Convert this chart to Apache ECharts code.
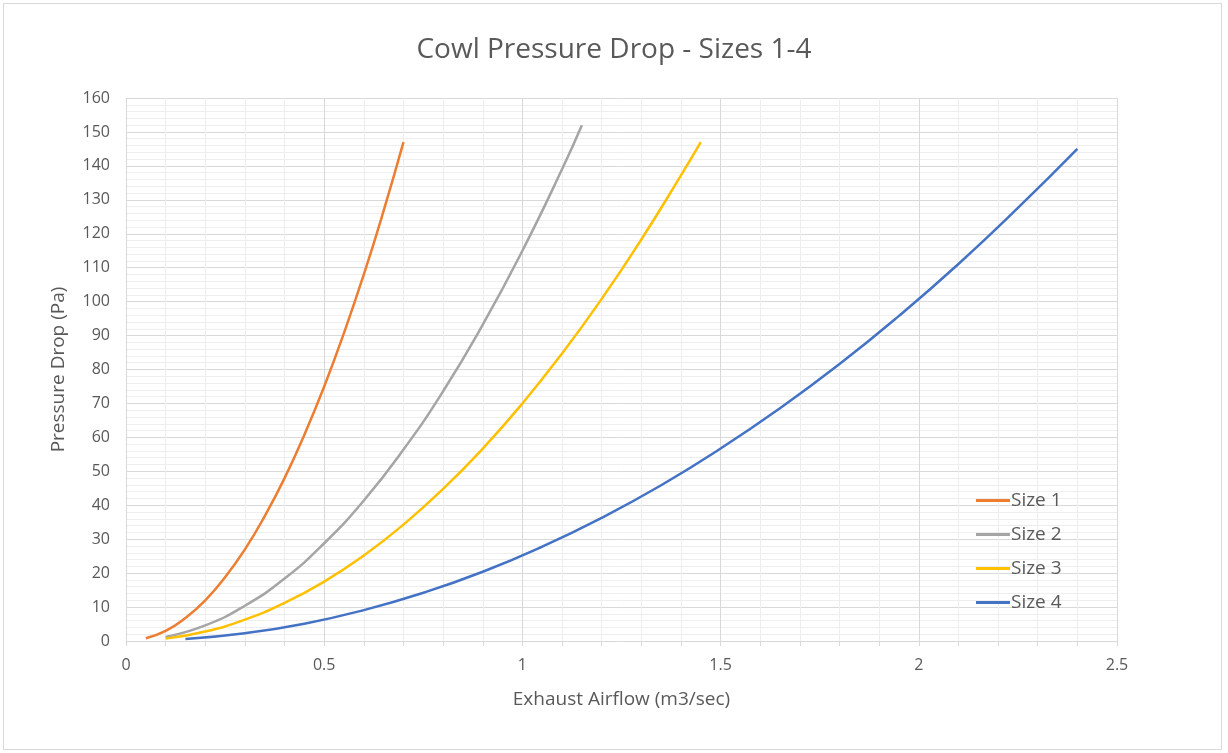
<!DOCTYPE html>
<html>
<head>
<meta charset="utf-8">
<script src="https://cdn.jsdelivr.net/npm/echarts@6/dist/echarts.min.js"></script>
<style>
  html, body { margin: 0; padding: 0; background: #fff; }
  #frame { position: absolute; left: 3px; top: 3px; width: 1217px; height: 745px; border: 1px solid #d9d9d9; }
  #chart { width: 1228px; height: 753px; }
</style>
</head>
<body>
<div id="frame"></div>
<div id="chart"></div>
<script>
// values: [airflow m3/sec, pressure drop Pa]
var size1 = [[0.05, 0.8], [0.1, 3], [0.15, 6.8], [0.2, 12], [0.25, 18.8], [0.3, 27], [0.35, 36.8],
    [0.4, 48], [0.45, 60.8], [0.5, 75], [0.55, 90.8], [0.6, 108], [0.65, 126.8], [0.7, 147]];
var size2 = [[0.1, 1.2], [0.2, 4.6], [0.3, 10.4], [0.4, 18.4], [0.5, 28.8], [0.6, 41.4], [0.7, 56.4],
    [0.8, 73.6], [0.9, 93.2], [1.0, 115], [1.1, 139], [1.15, 152]];
var size3 = [[0.1, 0.7], [0.2, 2.8], [0.3, 6.3], [0.4, 11.2], [0.5, 17.5], [0.6, 25.2], [0.7, 34.3],
    [0.8, 44.8], [0.9, 56.7], [1.0, 70], [1.1, 84.7], [1.2, 100.8], [1.3, 118.3], [1.4, 137.2], [1.45, 147]];
var size4 = [[0.15, 0.6], [0.3, 2.3], [0.45, 5.1], [0.6, 9.1], [0.75, 14.2], [0.9, 20.4], [1.05, 27.8],
    [1.2, 36.3], [1.35, 45.9], [1.5, 56.7], [1.65, 68.6], [1.8, 81.6], [1.95, 95.8], [2.1, 111.1],
    [2.25, 127.6], [2.4, 145]];
var names = ['Size 1', 'Size 2', 'Size 3', 'Size 4'];
var colors = ['#ED7D31', '#A5A5A5', '#FFC000', '#4472C4'];
var seriesData = [size1, size2, size3, size4];

var font = '"Open Sans", "Liberation Sans", sans-serif';
var textColor = '#595959';

echarts.init(document.getElementById('chart'))
    .setOption({
        animation: false,
        textStyle: {
            fontFamily: font
        },
        title: {
            text: 'Cowl Pressure Drop - Sizes 1-4',
            left: 'center',
            top: 31,
            textStyle: {
                fontFamily: font,
                fontSize: 28,
                fontWeight: 'normal',
                color: textColor
            }
        },
        legend: {
            orient: 'vertical',
            left: 971,
            top: 486,
            itemWidth: 34,
            itemHeight: 3,
            itemGap: 15,
            icon: 'rect',
            data: names,
            textStyle: {
                fontSize: 19,
                color: textColor,
                padding: [0, 0, 0, -4]
            }
        },
        grid: {
            left: 126,
            right: 111,
            top: 98,
            bottom: 112
        },
        xAxis: {
            type: 'value',
            min: 0,
            max: 2.5,
            interval: 0.5,
            name: 'Exhaust Airflow (m3/sec)',
            nameLocation: 'middle',
            nameGap: 49,
            nameTextStyle: {
                fontSize: 19,
                color: textColor
            },
            axisLine: { show: true, lineStyle: { color: '#d9d9d9' } },
            axisTick: { show: true, length: 5, lineStyle: { color: '#d9d9d9' } },
            minorTick: { show: true, splitNumber: 5, length: 5, lineStyle: { color: '#d9d9d9' } },
            axisLabel: {
                fontSize: 16,
                color: textColor,
                margin: 16
            },
            splitLine: { show: true, lineStyle: { color: '#d9d9d9' } },
            minorSplitLine: { show: true, lineStyle: { color: '#eeeeee' } }
        },
        yAxis: {
            type: 'value',
            min: 0,
            max: 160,
            interval: 10,
            name: 'Pressure Drop (Pa)',
            nameLocation: 'middle',
            nameGap: 58,
            nameTextStyle: {
                fontSize: 19,
                color: textColor
            },
            axisLine: { show: false },
            axisTick: { show: false },
            axisLabel: {
                fontSize: 16,
                color: textColor,
                margin: 16
            },
            splitLine: { show: true, lineStyle: { color: '#d9d9d9' } },
            minorTick: { show: false, splitNumber: 5 },
            minorSplitLine: { show: true, lineStyle: { color: '#eeeeee' } }
        },
        series: seriesData.map(function (data, index) {
            return {
                type: 'line',
                name: names[index],
                data: data,
                smooth: true,
                symbol: 'none',
                color: colors[index],
                lineStyle: { width: 2.5, color: colors[index] }
            };
        })
    });
</script>
</body>
</html>
